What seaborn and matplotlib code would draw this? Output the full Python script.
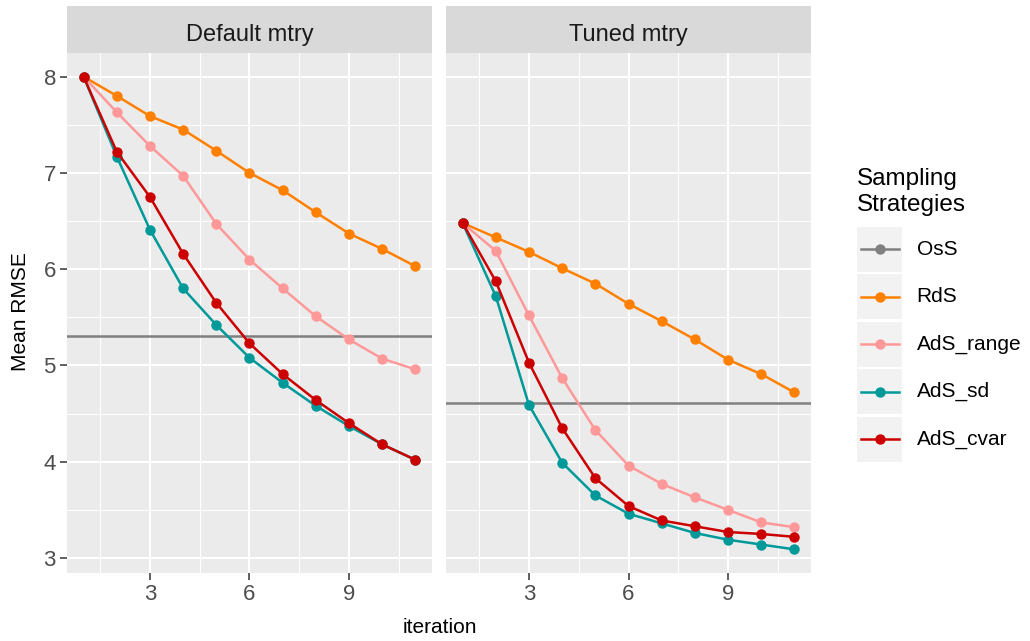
import numpy as np
import pandas as pd
import matplotlib
matplotlib.use("Agg")
import matplotlib.pyplot as plt
from matplotlib.ticker import FixedLocator
from matplotlib.patches import Rectangle
from matplotlib.lines import Line2D
import seaborn as sns

plt.rcParams['font.family'] = ['Liberation Sans', 'DejaVu Sans']

# ---------------- data ----------------
iterations = [1, 2, 3, 4, 5, 6, 7, 8, 9, 10, 11]
panels = ["Default mtry", "Tuned mtry"]
strategies = ["OsS", "RdS", "AdS_range", "AdS_sd", "AdS_cvar"]
colors = ["#808080", "#FF8000", "#FF9999", "#009999", "#CC0000"]

oss_default = 5.31
rds_default = [8.00, 7.80, 7.59, 7.45, 7.23, 7.00, 6.82, 6.59, 6.37, 6.21, 6.03]
range_default = [8.00, 7.63, 7.28, 6.97, 6.47, 6.10, 5.80, 5.51, 5.27, 5.07, 4.96]
sd_default = [8.00, 7.17, 6.41, 5.80, 5.42, 5.08, 4.82, 4.58, 4.37, 4.18, 4.02]
cvar_default = [8.00, 7.22, 6.75, 6.16, 5.65, 5.23, 4.91, 4.64, 4.40, 4.18, 4.02]

oss_tuned = 4.61
rds_tuned = [6.48, 6.33, 6.18, 6.01, 5.85, 5.64, 5.46, 5.27, 5.06, 4.91, 4.72]
range_tuned = [6.48, 6.19, 5.52, 4.87, 4.33, 3.96, 3.77, 3.63, 3.50, 3.37, 3.32]
sd_tuned = [6.48, 5.72, 4.59, 3.99, 3.65, 3.46, 3.36, 3.26, 3.19, 3.14, 3.09]
cvar_tuned = [6.48, 5.875, 5.03, 4.35, 3.83, 3.54, 3.39, 3.33, 3.27, 3.25, 3.22]

x_ticks = [3, 6, 9]
y_ticks = [3, 4, 5, 6, 7, 8]

# ---------------- build tables ----------------
series = {
    "Default mtry": {"RdS": rds_default, "AdS_range": range_default,
                     "AdS_sd": sd_default, "AdS_cvar": cvar_default},
    "Tuned mtry": {"RdS": rds_tuned, "AdS_range": range_tuned,
                   "AdS_sd": sd_tuned, "AdS_cvar": cvar_tuned},
}
oss_vals = {"Default mtry": oss_default, "Tuned mtry": oss_tuned}
rows = []
for p in panels:
    for s, vals in series[p].items():
        for it, v in zip(iterations, vals):
            rows.append({"panel": p, "strategy": s, "iteration": it, "rmse": v})
df = pd.DataFrame(rows)
palette = dict(zip(strategies, colors))
hue_order = strategies[1:]

# limits with ggplot-like 5% expansion
allv = list(df["rmse"]) + list(oss_vals.values())
ymin, ymax = min(allv), max(allv)
yr = ymax - ymin
ylim = (ymin - 0.05 * yr, ymax + 0.05 * yr)
xr = max(iterations) - min(iterations)
xlim = (min(iterations) - 0.05 * xr, max(iterations) + 0.05 * xr)

# ---------------- figure ----------------
W, H = 1030, 641
fig = plt.figure(figsize=(W / 100, H / 100), dpi=100)


def px_rect(x0, y0, x1, y1):
    return [x0 / W, (H - y1) / H, (x1 - x0) / W, (y1 - y0) / H]


panel_x = [(67, 432), (446, 811)]
top, bottom = 53, 573
strip_top = 6

for i, p in enumerate(panels):
    x0, x1 = panel_x[i]
    ax = fig.add_axes(px_rect(x0, top, x1, bottom))
    ax.set_facecolor("#EBEBEB")
    ax.set_axisbelow(True)
    ax.axhline(oss_vals[p], color=palette["OsS"], lw=1.8, zorder=2)
    sub = df[df["panel"] == p]
    sns.lineplot(data=sub, x="iteration", y="rmse", hue="strategy",
                 hue_order=hue_order, palette=palette, marker="o",
                 markersize=7.5, markeredgewidth=0, linewidth=1.8,
                 errorbar=None, legend=False, ax=ax, zorder=3)
    ax.set_xlim(*xlim)
    ax.set_ylim(*ylim)
    ax.xaxis.set_major_locator(FixedLocator(x_ticks))
    ax.xaxis.set_minor_locator(FixedLocator([1.5, 4.5, 7.5, 10.5]))
    ax.yaxis.set_major_locator(FixedLocator(y_ticks))
    ax.yaxis.set_minor_locator(FixedLocator([3.5, 4.5, 5.5, 6.5, 7.5]))
    ax.grid(which="major", color="white", lw=1.5)
    ax.grid(which="minor", color="white", lw=0.75)
    for sp in ax.spines.values():
        sp.set_visible(False)
    ax.tick_params(which="minor", length=0)
    ax.tick_params(which="major", length=5, width=1.1, color="#333333",
                   labelcolor="#4D4D4D", labelsize=16, pad=3)
    ax.set_xlabel("")
    ax.set_ylabel("")
    if i > 0:
        ax.tick_params(axis="y", which="major", length=0, labelleft=False)
    # strip
    st = fig.add_axes(px_rect(x0, strip_top, x1, top))
    st.set_facecolor("#D9D9D9")
    st.set_xticks([])
    st.set_yticks([])
    for sp in st.spines.values():
        sp.set_visible(False)
    st.text(0.5, 12.3 / 47, p, transform=st.transAxes, ha="center",
            va="baseline", fontsize=17, color="#1A1A1A")

# axis titles
fig.text(439.5 / W, (H - 633) / H, "iteration", ha="center", va="baseline",
         fontsize=15, color="black")
fig.text(21 / W, (H - 312) / H, "Mean RMSE", ha="center", va="center",
         rotation=90, fontsize=15, color="black")

# ---------------- legend ----------------
leg = fig.add_axes(px_rect(840, 150, 1030, 480))
leg.set_xlim(840, 1030)
leg.set_ylim(480, 150)
leg.set_axis_off()
leg.text(857, 185, "Sampling", ha="left", va="baseline", fontsize=17.5)
leg.text(857, 210.7, "Strategies", ha="left", va="baseline", fontsize=17.5)
for k, (s, c) in enumerate(zip(strategies, colors)):
    y0 = 226.7 + 47.5 * k
    leg.add_patch(Rectangle((857.3, y0), 45, 45, facecolor="#F2F2F2",
                            edgecolor="none"))
    yc = y0 + 22.5
    leg.add_line(Line2D([860.7, 899.3], [yc, yc], color=c, lw=1.8))
    leg.add_line(Line2D([879.8], [yc], color=c, marker="o", markersize=7.5,
                        markeredgewidth=0, lw=0))
    leg.text(916.7, yc, s, ha="left", va="center", fontsize=15)

fig.savefig("out.png", dpi=100)
